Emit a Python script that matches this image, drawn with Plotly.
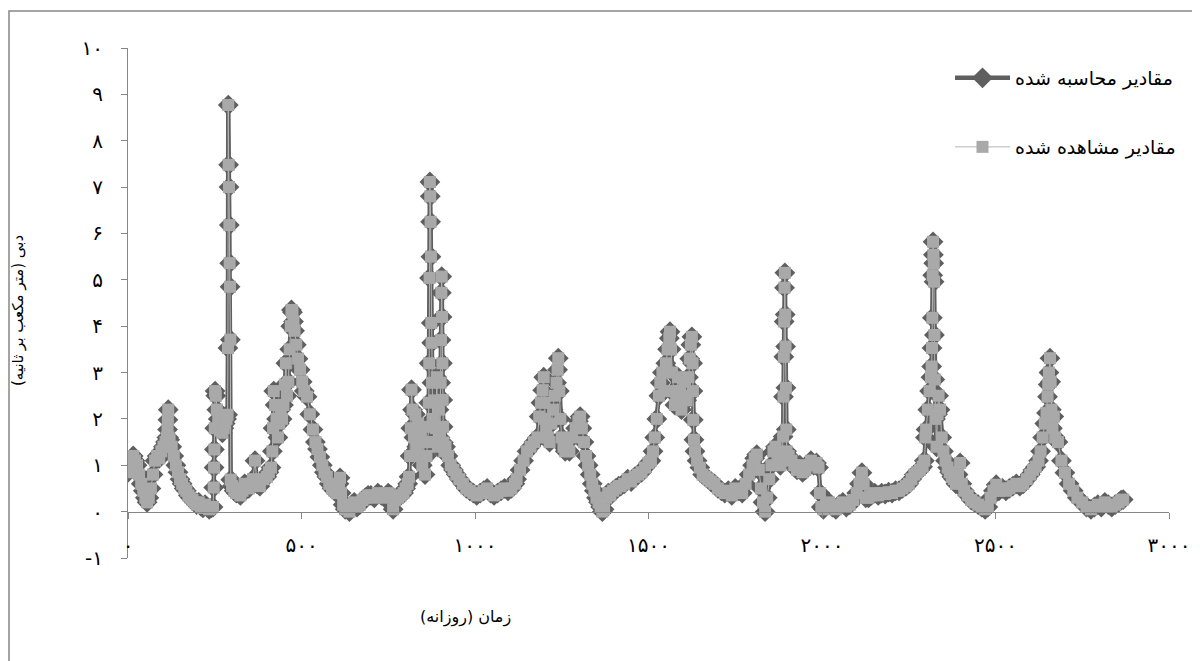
import plotly.graph_objects as go

# ---- data ----
days = [
    0, 5, 10, 15, 20, 26, 32, 38, 44, 50, 55, 60, 66, 72, 78, 84, 90, 96, 102, 108,
    112, 114, 115, 116, 117, 120, 126, 132, 138, 144, 150, 156, 162, 168, 174, 180, 186, 192, 198, 204,
    210, 216, 222, 228, 234, 240, 245, 247, 248, 249, 250, 251, 253, 256, 260, 264, 268, 272, 276, 280,
    284, 287, 288, 289, 290, 291, 292, 293, 294, 295, 296, 300, 306, 312, 318, 324, 330, 336, 342, 348,
    355, 360, 366, 372, 380, 390, 400, 406, 412, 416, 418, 420, 424, 428, 432, 436, 440, 444, 448, 452,
    455, 458, 462, 466, 469, 471, 474, 477, 480, 485, 490, 496, 502, 508, 516, 524, 533, 540, 546, 553,
    560, 566, 573, 580, 588, 595, 602, 608, 611, 614, 620, 626, 632, 638, 645, 652, 660, 668, 676, 684,
    692, 700, 710, 720, 730, 740, 750, 758, 764, 770, 778, 786, 794, 800, 806, 810, 813, 815, 817, 820,
    824, 828, 832, 836, 840, 844, 848, 852, 856, 860, 864, 866, 867, 868, 869, 870, 871, 872, 873, 874,
    875, 876, 878, 881, 884, 887, 890, 893, 896, 899, 901, 902, 903, 904, 905, 906, 907, 908, 909, 912,
    915, 922, 930, 938, 946, 955, 965, 975, 985, 995, 1005, 1015, 1025, 1035, 1045, 1055, 1065, 1075, 1085, 1095,
    1105, 1115, 1120, 1130, 1140, 1150, 1160, 1170, 1180, 1185, 1190, 1195, 1198, 1200, 1202, 1205, 1210, 1215, 1220, 1225,
    1230, 1235, 1238, 1240, 1243, 1246, 1250, 1255, 1260, 1266, 1272, 1280, 1290, 1298, 1303, 1308, 1314, 1320, 1326, 1332,
    1338, 1344, 1350, 1356, 1362, 1367, 1372, 1378, 1384, 1390, 1398, 1406, 1414, 1420, 1430, 1440, 1450, 1460, 1470, 1480,
    1490, 1500, 1507, 1513, 1518, 1524, 1530, 1534, 1540, 1545, 1550, 1555, 1560, 1562, 1565, 1568, 1572, 1576, 1580, 1585,
    1590, 1595, 1600, 1605, 1610, 1615, 1619, 1622, 1625, 1627, 1628, 1629, 1631, 1634, 1640, 1648, 1656, 1664, 1672, 1680,
    1690, 1700, 1710, 1720, 1730, 1740, 1750, 1760, 1770, 1780, 1790, 1800, 1806, 1812, 1818, 1824, 1830, 1836, 1842, 1848,
    1854, 1860, 1866, 1872, 1880, 1885, 1888, 1889, 1890, 1891, 1892, 1893, 1894, 1895, 1896, 1897, 1898, 1904, 1912, 1920,
    1928, 1936, 1944, 1952, 1960, 1968, 1976, 1984, 1990, 1994, 1998, 2004, 2012, 2020, 2030, 2040, 2050, 2060, 2070, 2080,
    2090, 2100, 2108, 2115, 2120, 2126, 2134, 2142, 2152, 2162, 2172, 2182, 2192, 2202, 2212, 2222, 2232, 2242, 2250, 2258,
    2266, 2274, 2282, 2290, 2295, 2298, 2300, 2305, 2310, 2314, 2316, 2317, 2318, 2319, 2320, 2321, 2322, 2323, 2324, 2325,
    2327, 2330, 2333, 2336, 2340, 2345, 2350, 2356, 2362, 2368, 2374, 2380, 2386, 2392, 2398, 2403, 2410, 2420, 2430, 2440,
    2450, 2460, 2470, 2478, 2486, 2494, 2502, 2510, 2520, 2530, 2540, 2550, 2560, 2570, 2580, 2590, 2600, 2608, 2616, 2624,
    2630, 2636, 2642, 2647, 2650, 2652, 2654, 2657, 2659, 2661, 2664, 2668, 2672, 2680, 2690, 2700, 2712, 2724, 2736, 2750,
    2762, 2775, 2785, 2795, 2805, 2815, 2825, 2835, 2845, 2855, 2862, 2868,
]

observed = [
    0.85, 1.0, 1.15, 1.2, 1.1, 1.0, 0.8, 0.6, 0.45, 0.3, 0.2, 0.3, 0.5, 0.8, 1.1, 1.2, 1.15, 1.3, 1.4, 1.5,
    1.6, 1.77, 1.98, 2.2, 1.6, 1.55, 1.4, 1.2, 1.0, 0.85, 0.7, 0.6, 0.5, 0.45, 0.35, 0.3, 0.25, 0.2, 0.15, 0.2,
    0.12, 0.08, 0.15, 0.1, 0.05, 0.08, 0.1, 0.52, 0.95, 1.34, 1.8, 2.6, 2.5, 2.2, 2.0, 1.9, 1.75, 1.7, 1.8, 1.9,
    2.0, 2.09, 3.53, 8.77, 7.48, 7.0, 6.18, 5.36, 4.85, 3.71, 0.69, 0.55, 0.45, 0.4, 0.5, 0.35, 0.45, 0.6, 0.55, 0.5,
    0.6, 0.7, 1.1, 0.6, 0.55, 0.7, 0.75, 0.85, 0.95, 1.3, 1.8, 2.6, 2.3, 2.0, 1.6, 1.9, 2.2, 2.0, 2.3, 2.74,
    3.2, 2.5, 2.8, 3.5, 4.0, 4.35, 4.3, 4.1, 3.9, 3.6, 3.3, 3.06, 2.8, 2.6, 2.48, 2.1, 1.77, 1.5, 1.35, 1.18,
    1.0, 0.85, 0.75, 0.6, 0.5, 0.45, 0.4, 0.6, 0.73, 0.4, 0.15, 0.05, 0.1, 0.0, 0.15, 0.2, 0.1, 0.15, 0.25, 0.3,
    0.35, 0.35, 0.3, 0.4, 0.35, 0.3, 0.4, 0.35, 0.05, 0.25, 0.3, 0.35, 0.4, 0.5, 0.6, 0.75, 1.2, 1.8, 2.63, 2.2,
    1.6, 2.1, 1.4, 1.9, 1.2, 1.7, 1.0, 1.5, 0.8, 1.2, 1.5, 1.83, 2.35, 3.2, 5.04, 7.11, 6.8, 6.25, 5.5, 4.07,
    3.64, 2.78, 2.0, 1.5, 2.4, 1.8, 2.9, 1.4, 2.2, 1.6, 2.78, 3.7, 4.72, 5.07, 4.2, 3.2, 2.41, 1.83, 1.49, 1.3,
    1.4, 1.2, 1.0, 0.9, 0.8, 0.7, 0.6, 0.5, 0.45, 0.4, 0.35, 0.4, 0.45, 0.5, 0.4, 0.35, 0.4, 0.45, 0.5, 0.45,
    0.5, 0.6, 0.7, 0.9, 1.1, 1.3, 1.4, 1.5, 1.6, 2.05, 2.35, 2.62, 2.9, 2.35, 2.0, 1.8, 1.6, 1.5, 1.9, 2.2,
    2.5, 2.78, 3.06, 3.31, 2.6, 2.0, 1.6, 1.4, 1.3, 1.5, 1.3, 1.6, 1.8, 1.95, 2.05, 1.8, 1.5, 1.2, 1.0, 0.8,
    0.6, 0.45, 0.3, 0.2, 0.1, 0.0, 0.05, 0.3, 0.4, 0.35, 0.45, 0.5, 0.55, 0.55, 0.6, 0.7, 0.65, 0.75, 0.8, 0.85,
    0.95, 1.05, 1.1, 1.3, 1.6, 2.0, 2.5, 2.78, 3.0, 2.6, 3.2, 3.5, 3.74, 3.88, 3.5, 3.0, 2.6, 2.3, 2.5, 2.9,
    2.6, 2.2, 2.5, 2.8, 2.4, 2.9, 3.3, 3.6, 3.77, 3.2, 2.6, 1.98, 1.55, 1.3, 1.1, 0.95, 0.8, 0.75, 0.7, 0.65,
    0.6, 0.5, 0.45, 0.4, 0.45, 0.35, 0.5, 0.45, 0.4, 0.6, 0.8, 1.0, 1.15, 1.23, 0.9, 0.5, 0.2, 0.0, 0.3, 0.7,
    1.0, 1.3, 1.4, 1.2, 1.0, 1.2, 1.62, 2.48, 3.34, 4.1, 4.83, 5.15, 4.25, 3.56, 2.67, 1.77, 1.3, 1.2, 1.1, 1.0,
    0.9, 1.0, 0.85, 0.9, 1.0, 1.1, 1.0, 1.05, 0.95, 0.4, 0.1, 0.05, 0.15, 0.2, 0.1, 0.05, 0.15, 0.2, 0.1, 0.15,
    0.25, 0.4, 0.6, 0.84, 0.6, 0.3, 0.3, 0.35, 0.4, 0.35, 0.4, 0.38, 0.42, 0.4, 0.45, 0.45, 0.5, 0.55, 0.6, 0.7,
    0.8, 0.85, 0.9, 0.97, 1.1, 1.6, 1.77, 2.2, 2.6, 2.9, 3.13, 3.53, 4.18, 5.1, 5.82, 5.54, 5.36, 4.96, 3.81, 2.85,
    2.0, 1.4, 2.1, 2.5, 2.2, 1.6, 1.3, 1.1, 0.95, 0.85, 0.75, 0.7, 0.6, 0.8, 1.05, 0.6, 0.45, 0.35, 0.25, 0.2,
    0.15, 0.1, 0.05, 0.1, 0.3, 0.45, 0.58, 0.45, 0.5, 0.45, 0.5, 0.55, 0.6, 0.55, 0.6, 0.7, 0.8, 0.9, 0.97, 1.1,
    1.3, 1.6, 1.9, 2.13, 2.48, 2.74, 3.0, 3.31, 2.8, 2.2, 1.8, 2.05, 1.6, 1.5, 1.1, 0.84, 0.6, 0.45, 0.3, 0.2,
    0.1, 0.05, 0.1, 0.15, 0.1, 0.2, 0.15, 0.1, 0.15, 0.2, 0.25, 0.26,
]

calculated = [
    0.85, 1.0, 1.15, 1.2, 1.1, 1.0, 0.8, 0.6, 0.45, 0.3, 0.2, 0.3, 0.5, 0.8, 1.1, 1.2, 1.15, 1.3, 1.4, 1.5,
    1.6, 1.77, 1.98, 2.2, 1.6, 1.55, 1.4, 1.2, 1.0, 0.85, 0.7, 0.6, 0.5, 0.45, 0.35, 0.3, 0.25, 0.2, 0.15, 0.2,
    0.12, 0.08, 0.15, 0.1, 0.05, 0.08, 0.1, 0.52, 0.95, 1.34, 1.8, 2.6, 2.5, 2.2, 2.0, 1.9, 1.75, 1.7, 1.8, 1.9,
    2.0, 2.09, 3.53, 8.77, 7.48, 7.0, 6.18, 5.36, 4.85, 3.71, 0.69, 0.55, 0.45, 0.4, 0.5, 0.35, 0.45, 0.6, 0.55, 0.5,
    0.6, 0.7, 1.1, 0.6, 0.55, 0.7, 0.75, 0.85, 0.95, 1.3, 1.8, 2.6, 2.3, 2.0, 1.6, 1.9, 2.2, 2.0, 2.3, 2.74,
    3.2, 2.5, 2.8, 3.5, 4.0, 4.35, 4.3, 4.1, 3.9, 3.6, 3.3, 3.06, 2.8, 2.6, 2.48, 2.1, 1.77, 1.5, 1.35, 1.18,
    1.0, 0.85, 0.75, 0.6, 0.5, 0.45, 0.4, 0.6, 0.73, 0.4, 0.15, 0.05, 0.1, 0.0, 0.15, 0.2, 0.1, 0.15, 0.25, 0.3,
    0.35, 0.35, 0.3, 0.4, 0.35, 0.3, 0.4, 0.35, 0.05, 0.25, 0.3, 0.35, 0.4, 0.5, 0.6, 0.75, 1.2, 1.8, 2.63, 2.2,
    1.6, 2.1, 1.4, 1.9, 1.2, 1.7, 1.0, 1.5, 0.8, 1.2, 1.5, 1.83, 2.35, 3.2, 5.04, 7.11, 6.8, 6.25, 5.5, 4.07,
    3.64, 2.78, 2.0, 1.5, 2.4, 1.8, 2.9, 1.4, 2.2, 1.6, 2.78, 3.7, 4.72, 5.07, 4.2, 3.2, 2.41, 1.83, 1.49, 1.3,
    1.4, 1.2, 1.0, 0.9, 0.8, 0.7, 0.6, 0.5, 0.45, 0.4, 0.35, 0.4, 0.45, 0.5, 0.4, 0.35, 0.4, 0.45, 0.5, 0.45,
    0.5, 0.6, 0.7, 0.9, 1.1, 1.3, 1.4, 1.5, 1.6, 2.05, 2.35, 2.62, 2.9, 2.35, 2.0, 1.8, 1.6, 1.5, 1.9, 2.2,
    2.5, 2.78, 3.06, 3.31, 2.6, 2.0, 1.6, 1.4, 1.3, 1.5, 1.3, 1.6, 1.8, 1.95, 2.05, 1.8, 1.5, 1.2, 1.0, 0.8,
    0.6, 0.45, 0.3, 0.2, 0.1, 0.0, 0.05, 0.3, 0.4, 0.35, 0.45, 0.5, 0.55, 0.55, 0.6, 0.7, 0.65, 0.75, 0.8, 0.85,
    0.95, 1.05, 1.1, 1.3, 1.6, 2.0, 2.5, 2.78, 3.0, 2.6, 3.2, 3.5, 3.74, 3.88, 3.5, 3.0, 2.6, 2.3, 2.5, 2.9,
    2.6, 2.2, 2.5, 2.8, 2.4, 2.9, 3.3, 3.6, 3.77, 3.2, 2.6, 1.98, 1.55, 1.3, 1.1, 0.95, 0.8, 0.75, 0.7, 0.65,
    0.6, 0.5, 0.45, 0.4, 0.45, 0.35, 0.5, 0.45, 0.4, 0.6, 0.8, 1.0, 1.15, 1.23, 0.9, 0.5, 0.2, 0.0, 0.3, 0.7,
    1.0, 1.3, 1.4, 1.2, 1.0, 1.2, 1.62, 2.48, 3.34, 4.1, 4.83, 5.15, 4.25, 3.56, 2.67, 1.77, 1.3, 1.2, 1.1, 1.0,
    0.9, 1.0, 0.85, 0.9, 1.0, 1.1, 1.0, 1.05, 0.95, 0.4, 0.1, 0.05, 0.15, 0.2, 0.1, 0.05, 0.15, 0.2, 0.1, 0.15,
    0.25, 0.4, 0.6, 0.84, 0.6, 0.3, 0.3, 0.35, 0.4, 0.35, 0.4, 0.38, 0.42, 0.4, 0.45, 0.45, 0.5, 0.55, 0.6, 0.7,
    0.8, 0.85, 0.9, 0.97, 1.1, 1.6, 1.77, 2.2, 2.6, 2.9, 3.13, 3.53, 4.18, 5.1, 5.82, 5.54, 5.36, 4.96, 3.81, 2.85,
    2.0, 1.4, 2.1, 2.5, 2.2, 1.6, 1.3, 1.1, 0.95, 0.85, 0.75, 0.7, 0.6, 0.8, 1.05, 0.6, 0.45, 0.35, 0.25, 0.2,
    0.15, 0.1, 0.05, 0.1, 0.3, 0.45, 0.58, 0.45, 0.5, 0.45, 0.5, 0.55, 0.6, 0.55, 0.6, 0.7, 0.8, 0.9, 0.97, 1.1,
    1.3, 1.6, 1.9, 2.13, 2.48, 2.74, 3.0, 3.31, 2.8, 2.2, 1.8, 2.05, 1.6, 1.5, 1.1, 0.84, 0.6, 0.45, 0.3, 0.2,
    0.1, 0.05, 0.1, 0.15, 0.1, 0.2, 0.15, 0.1, 0.15, 0.2, 0.25, 0.26,
]

x_tick_vals = [0, 500, 1000, 1500, 2000, 2500, 3000]
x_tick_text = ["۰", "۵۰۰", "۱۰۰۰", "۱۵۰۰", "۲۰۰۰", "۲۵۰۰", "۳۰۰۰"]
y_tick_vals = [-1, 0, 1, 2, 3, 4, 5, 6, 7, 8, 9, 10]
y_tick_text = ["-۱", "۰", "۱", "۲", "۳", "۴", "۵", "۶", "۷", "۸", "۹", "۱۰"]

name_calc = "مقادیر محاسبه شده"
name_obs = "مقادیر مشاهده شده"
x_title = "زمان (روزانه)"
y_title = "دبی (متر مکعب بر ثانیه)"

FONT = "DejaVu Sans"
AXIS_COLOR = "#868686"

# ---- figure ----
# the page adds an 8px body margin, so the figure is 8px smaller than the window
OFF = 8
W, H = 1200 - OFF, 661 - OFF
L, T = 128 - OFF, 48 - OFF
R = W - (1169 - OFF)
B = H - (558 - OFF)
pw, ph = W - L - R, H - T - B


def px(xw):
    """window x pixel -> paper x"""
    return (xw - OFF - L) / pw


def py(yw):
    """window y pixel -> paper y"""
    return (H - B - (yw - OFF)) / ph


fig = go.Figure()
fig.add_trace(go.Scatter(
    x=days, y=calculated, name=name_calc, mode="lines+markers",
    line=dict(color="#5f5f5f", width=4.5),
    marker=dict(symbol="diamond", size=16, color="#5f5f5f"),
    legend="legend",
))
fig.add_trace(go.Scatter(
    x=days, y=observed, name=name_obs, mode="lines+markers",
    line=dict(color="#b4b4b4", width=1),
    marker=dict(symbol="square", size=12, color="#a9a9a9"),
    legend="legend2",
))

fig.update_layout(
    width=W, height=H,
    margin=dict(l=L, r=R, t=T, b=B, pad=0, autoexpand=False),
    paper_bgcolor="white", plot_bgcolor="white",
    font=dict(family=FONT, color="black", size=15),
    xaxis=dict(
        range=[0, 3000], tickvals=x_tick_vals, ticktext=x_tick_text,
        anchor="free", position=1 / 11,
        showline=True, linecolor=AXIS_COLOR, linewidth=1,
        ticks="outside", ticklen=6, tickcolor=AXIS_COLOR,
        showgrid=False, zeroline=False, ticklabelstandoff=9,
        tickfont=dict(size=20, family=FONT),
    ),
    yaxis=dict(
        range=[-1, 10], tickvals=y_tick_vals, ticktext=y_tick_text,
        showline=True, linecolor=AXIS_COLOR, linewidth=1,
        ticks="outside", ticklen=6, tickcolor=AXIS_COLOR,
        showgrid=False, zeroline=False, ticklabelstandoff=14,
        tickfont=dict(size=20, family=FONT),
    ),
    legend=dict(
        x=px(950), y=py(78), xanchor="left", yanchor="middle",
        bgcolor="rgba(0,0,0,0)", itemwidth=55,
        font=dict(size=19, family=FONT),
    ),
    legend2=dict(
        x=px(950), y=py(147), xanchor="left", yanchor="middle",
        bgcolor="rgba(0,0,0,0)", itemwidth=55,
        font=dict(size=19, family=FONT),
    ),
    showlegend=True,
)

fig.add_annotation(
    text=x_title, xref="paper", yref="paper", x=px(465), y=py(617),
    showarrow=False, font=dict(size=16, family=FONT), xanchor="center", yanchor="middle",
)
fig.add_annotation(
    text=y_title, xref="paper", yref="paper", x=px(18), y=py(311),
    showarrow=False, textangle=-90, font=dict(size=15, family=FONT),
    xanchor="center", yanchor="middle",
)
fig.add_shape(
    type="rect", xref="paper", yref="paper",
    x0=px(9), x1=px(1215), y0=py(680), y1=py(11),
    line=dict(color=AXIS_COLOR, width=1.5), fillcolor="rgba(0,0,0,0)", layer="below",
)

fig.write_html("out.html")
